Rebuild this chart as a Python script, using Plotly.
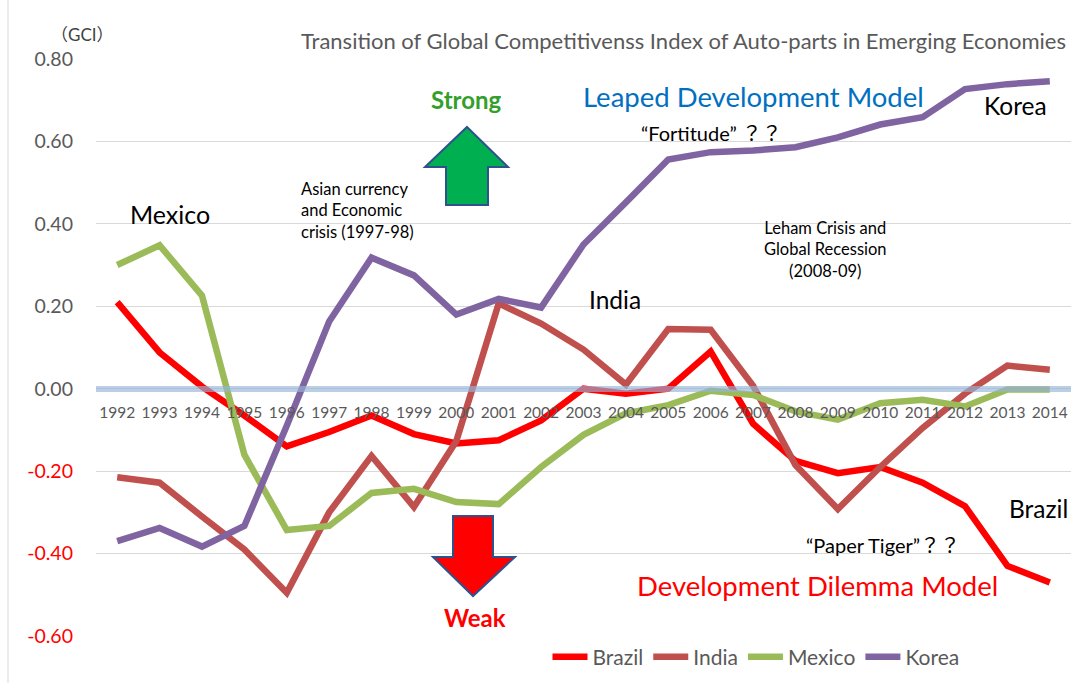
import plotly.graph_objects as go

years = [str(y) for y in range(1992, 2015)]

brazil = [0.21, 0.088, 0.005, -0.065, -0.14, -0.105, -0.065, -0.11, -0.133, -0.125, -0.077, 0.0,
          -0.012, 0.0, 0.09, -0.085, -0.175, -0.205, -0.19, -0.228, -0.285, -0.43, -0.47]
india = [-0.215, -0.228, -0.31, -0.39, -0.495, -0.30, -0.163, -0.287, -0.127, 0.207, 0.158, 0.095,
         0.01, 0.145, 0.143, 0.007, -0.185, -0.292, -0.19, -0.095, -0.012, 0.056, 0.046]
mexico = [0.30, 0.348, 0.226, -0.16, -0.343, -0.333, -0.253, -0.243, -0.275, -0.28, -0.19, -0.112,
          -0.06, -0.04, -0.005, -0.015, -0.055, -0.075, -0.035, -0.027, -0.043, -0.002, -0.002]
korea = [-0.37, -0.338, -0.383, -0.333, -0.09, 0.163, 0.318, 0.275, 0.18, 0.218, 0.197, 0.35,
         0.452, 0.556, 0.574, 0.578, 0.586, 0.61, 0.641, 0.659, 0.727, 0.739, 0.746]

series_names = ["Brazil", "India", "Mexico", "Korea"]
series_values = [brazil, india, mexico, korea]
series_colors = ["#FF0000", "#C0504D", "#9BBB59", "#8064A2"]

ytick_vals = [0.8, 0.6, 0.4, 0.2, 0.0, -0.2, -0.4, -0.6]
ytick_text = ["0.80", "0.60", "0.40", "0.20", "0.00",
              '<span style="color:#FF0000">-0.20</span>',
              '<span style="color:#FF0000">-0.40</span>',
              '<span style="color:#FF0000">-0.60</span>']

W, H = 1071, 683
L, R, T, B = 96, 0, 59, 47
PW, PH = W - L - R, H - T - B

def px(x):
    return (x - L) / PW

def py(y):
    return (H - B - y) / PH

FONT = "Lato, 'Noto Sans CJK JP'"
GREY = "#595959"

fig = go.Figure()
for name, vals, col in zip(series_names, series_values, series_colors):
    fig.add_trace(go.Scatter(x=years, y=vals, name=name, mode="lines",
                             line=dict(color=col, width=6.5)))

ymin, ymax = -0.6, 0.8

annotations = []
def ann(text, x, y, size, color="#000000", bold=False, xanchor="center", align="center"):
    if bold:
        text = "<b>" + text + "</b>"
    annotations.append(dict(text=text, x=px(x), y=py(y), xref="paper", yref="paper",
                            xanchor=xanchor, yanchor="middle", showarrow=False, align=align,
                            font=dict(family=FONT, size=size, color=color)))

ann("Transition of Global Competitivenss Index of Auto-parts in Emerging Economies",
    1068, 40, 22, color=GREY, xanchor="right")
ann("（GCI）", 82, 35, 17, color="#404040")
ann("Strong", 466, 100, 24, color="#33A02C", bold=True)
ann("Weak", 475, 617, 24, color="#FF0000", bold=True)
ann("Leaped Development Model", 753, 96, 27.5, color="#0070C0")
ann("Korea", 1015, 106, 24.5)
ann("“Fortitude” ？？", 711, 133, 20)
ann("Mexico", 170, 214, 25)
ann("Asian currency<br>and Economic<br>crisis (1997-98)", 299, 210, 16.5, xanchor="left", align="left")
ann("Leham Crisis and<br>Global Recession<br>(2008-09)", 825, 249, 16.5)
ann("India", 615, 299, 24.5)
ann("Brazil", 1038, 508, 24.5)
ann("“Paper Tiger”？？", 883, 545, 20)
ann("Development Dilemma Model", 817, 585, 27.5, color="#FF0000")

def path(points):
    s = "M " + " L ".join(f"{px(a):.5f},{py(b):.5f}" for a, b in points) + " Z"
    return s

up_arrow = [(467, 127), (508, 167), (488, 167), (488, 205), (446, 205), (446, 167), (425, 167)]
down_arrow = [(453, 516), (493, 516), (493, 557), (515, 557), (473, 596), (433, 557), (453, 557)]

shapes = [
    dict(type="path", path=path(up_arrow), xref="paper", yref="paper",
         fillcolor="#00B050", line=dict(color="#2F528F", width=2), layer="above"),
    dict(type="path", path=path(down_arrow), xref="paper", yref="paper",
         fillcolor="#FF0000", line=dict(color="#2F528F", width=2), layer="above"),
    dict(type="line", xref="paper", yref="paper", x0=px(8), x1=px(8), y0=py(683), y1=py(0),
         line=dict(color="#D9D9D9", width=1)),
]

fig.update_layout(
    width=W, height=H,
    margin=dict(l=L, r=R, t=T, b=B, pad=0),
    paper_bgcolor="white", plot_bgcolor="white",
    font=dict(family=FONT, color=GREY),
    showlegend=True,
    legend=dict(orientation="h", x=px(756), y=py(657), xanchor="center", yanchor="middle",
                font=dict(family=FONT, size=21, color=GREY), itemwidth=35,
                bgcolor="rgba(0,0,0,0)"),
    annotations=annotations,
    shapes=shapes,
    xaxis=dict(type="category", range=[-0.5, 22.5], anchor="free",
               position=(0 - ymin) / (ymax - ymin),
               showgrid=False, zeroline=False, showline=True,
               linecolor="rgba(149,179,215,0.65)", linewidth=6,
               ticks="", ticklabelstandoff=8,
               tickfont=dict(family=FONT, size=15.5, color=GREY),
               fixedrange=True),
    yaxis=dict(range=[ymin, ymax], domain=[0, 1], tickvals=ytick_vals, ticktext=ytick_text,
               showgrid=True, gridcolor="#D9D9D9", gridwidth=1, zeroline=False,
               showline=False, ticks="", ticklabelstandoff=22,
               tickfont=dict(family=FONT, size=19.5, color=GREY)),
)

fig.write_html("out.html", config={"displayModeBar": False},
               post_script="document.body.style.margin='0';")
